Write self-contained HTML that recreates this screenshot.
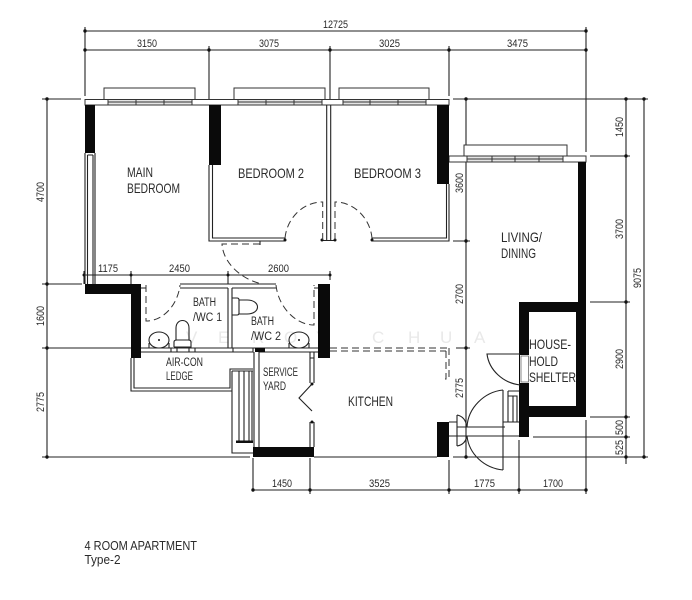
<!DOCTYPE html>
<html><head><meta charset="utf-8"><style>
html,body{margin:0;padding:0;background:#fff}
svg{display:block}
text{font-family:"Liberation Sans",sans-serif;fill:#2a2a2a}
.r{font-size:14px}.d{font-size:11px}
.w{font-size:17px;fill:#e9e9e9}
.l{stroke:#333;stroke-width:1;fill:none}
.t{stroke:#222;stroke-width:1.1;fill:none}
.da{stroke:#333;stroke-width:1;fill:none;stroke-dasharray:7 4}
.f{stroke:#333;stroke-width:1;fill:#fff}
.dot{fill:#111}
</style></head><body>
<svg width="692" height="600" viewBox="0 0 692 600" xmlns="http://www.w3.org/2000/svg">
<!-- watermark -->
<text class="w" x="186" y="343">V</text><text class="w" x="218" y="343">E</text><text class="w" x="252" y="343">R</text><text class="w" x="284" y="343">O</text><text class="w" x="316" y="343">Y</text><text class="w" x="372" y="343">C</text><text class="w" x="408" y="343">H</text><text class="w" x="440" y="343">U</text><text class="w" x="474" y="343">A</text>

<!-- dimension lines -->
<g class="t">
<path d="M85 31H586M85 50H586M85 27V96M209 46V99M330 46V99M449 46V96M586 27V152"/>
<path d="M42 99H81M453 99H648M590 156H630M453 241H470M456 348H470M590 302H630M590 417H630M533 437H630M453 457H648M42 284H82M42 348H131M42 457H250M314 457H437"/>
<path d="M47 99V457M466 99V457M626 99V464M644 99V457"/>
<path d="M84 275H330M84 271V284M131 271V284M228 271V284M330 271V280"/>
<path d="M253 490H586M253 458V490M310 458V494M449 460V494M519 440V494M586 420V494"/>
</g>
<g class="dot">
<circle cx="85" cy="31" r="1.7"/><circle cx="586" cy="31" r="1.7"/><circle cx="85" cy="50" r="1.7"/><circle cx="209" cy="50" r="1.7"/><circle cx="330" cy="50" r="1.7"/><circle cx="449" cy="50" r="1.7"/><circle cx="586" cy="50" r="1.7"/>
<circle cx="47" cy="99" r="1.7"/><circle cx="47" cy="284" r="1.7"/><circle cx="47" cy="348" r="1.7"/><circle cx="47" cy="457" r="1.7"/>
<circle cx="466" cy="99" r="1.7"/><circle cx="466" cy="241" r="1.7"/><circle cx="466" cy="348" r="1.7"/><circle cx="466" cy="457" r="1.7"/>
<circle cx="626" cy="99" r="1.7"/><circle cx="626" cy="156" r="1.7"/><circle cx="626" cy="302" r="1.7"/><circle cx="626" cy="417" r="1.7"/><circle cx="626" cy="437" r="1.7"/><circle cx="626" cy="457" r="1.7"/>
<circle cx="644" cy="99" r="1.7"/><circle cx="644" cy="457" r="1.7"/>
<circle cx="84" cy="275" r="1.5"/><circle cx="131" cy="275" r="1.5"/><circle cx="228" cy="275" r="1.5"/><circle cx="330" cy="275" r="1.5"/>
<circle cx="253" cy="490" r="1.7"/><circle cx="310" cy="490" r="1.7"/><circle cx="449" cy="490" r="1.7"/><circle cx="519" cy="490" r="1.7"/><circle cx="586" cy="490" r="1.7"/>
</g>

<!-- top walls + windows -->
<g class="f">
<rect x="85" y="99.5" width="364" height="5.5"/>
<rect x="449" y="156" width="137" height="6"/>
<rect x="104" y="88" width="91" height="11.5"/><rect x="234" y="88" width="91" height="11.5"/><rect x="339" y="88" width="90" height="11.5"/><rect x="464" y="145" width="103" height="11"/>
</g>
<g fill="#e4e4e4" stroke="#333">
<rect x="108" y="99.5" width="84" height="5.5"/><rect x="238" y="99.5" width="84" height="5.5"/><rect x="343" y="99.5" width="83" height="5.5"/><rect x="467" y="156" width="96" height="6"/>
</g>
<path class="l" d="M136 99.5V105M164 99.5V105M266 99.5V105M294 99.5V105M370 99.5V105M398 99.5V105M492 156V162M515 156V162M539 156V162M108 102H192M238 102H322M343 102H426M467 159H563"/>

<!-- thin walls -->
<path class="t" d="M85 153V284M87.5 155V284M93 155V284M95 153V284M87.5 155H93"/>
<path class="t" d="M209 165V241H285V238H212.5V165"/>
<path class="t" d="M326.7 105V240M330.7 105V240M322 240.500H335"/>
<path class="t" d="M449 184V241H372V238H446.500V184"/>
<path class="t" d="M260 241V245"/>
<circle class="dot" cx="285" cy="240" r="1.5"/><circle class="dot" cx="372" cy="240" r="1.5"/><circle class="dot" cx="322" cy="240" r="1.5"/><circle class="dot" cx="335" cy="240" r="1.5"/>

<!-- doors -->
<path class="da" d="M285 238C287 218 303 202 322.700 202V240"/>
<path class="da" d="M335 240V202C354 202 370 218 372 238"/>
<path class="da" d="M260 244H222C223 262 240 279 262 284"/>
<path class="da" d="M146 285V321C164 321 178 304 180 285"/>
<path class="da" d="M276 285C278 306 295 325 314 325V285"/>
<path class="da" d="M330 348H449M330 351H446M449 348V379M446 351V379H442"/>

<!-- baths -->
<path class="t" d="M180 284H276M146 288H141M180 288H228M232 288H276M314 288H318M228 288V348M232 288V348M141 348H318M141 352H253M259 352H318"/>
<path class="t" d="M171 348H195V352H171ZM233 348H253V352H233ZM177 348V352M189 348V352"/>
<g class="t" fill="#fff">
<ellipse cx="159" cy="340" rx="10" ry="8"/><path d="M149 343V348M169 343V348"/>
<ellipse cx="299" cy="340" rx="10" ry="8"/><path d="M289 343V348M309 343V348"/>
<path d="M176 340V328C176 318 189 318 189 328V340"/><path d="M174 347V342Q174 340 177 340H188Q191 340 191 342V347H174"/>
<path d="M232 298H237Q239 298 239 300V313Q239 315 237 315H232"/><path d="M239 300H247C261 300 261 314 247 314H239"/>
</g>
<circle class="dot" cx="159" cy="340" r="1"/><circle class="dot" cx="299" cy="340" r="1"/>

<!-- ledge and service yard -->
<path class="t" d="M131 358V391H232M134 358V388H230V369H253M232 371H253M232 371V453H253"/>
<path class="t" d="M254 352V447M259 352V447M310 352V358M314 352V358M310 358V383M314 358V383M310 422V447M314 422V447M310 358H314"/>
<path class="t" d="M312 384L299 398L312 411"/>
<path class="t" d="M239 371V441M244 371V441M249 371V441M252 371V441"/>
<path d="M236 440.500H253V443H236Z" fill="#111"/>
<circle class="dot" cx="312" cy="384" r="1.5"/><circle class="dot" cx="312" cy="422" r="1.5"/>

<!-- black walls -->
<g fill="#0a0a0a">
<rect x="85" y="105" width="10" height="48"/>
<rect x="209" y="105" width="12" height="60"/>
<rect x="437" y="105" width="12" height="79"/>
<path d="M85 284H141V358H131V294H85Z"/>
<rect x="318" y="284" width="12" height="74"/>
<rect x="255" y="348" width="10" height="4"/>
<rect x="253" y="447" width="61" height="10"/>
<rect x="437" y="422" width="12" height="35"/>
<path d="M578 162H586V417H519V302H578ZM529 312V406H576V312Z" fill-rule="evenodd"/>
<rect x="519" y="406" width="10" height="31"/>
</g>
<rect x="520" y="355" width="9" height="28" fill="#fff"/>
<rect x="521" y="356" width="7.500" height="26" fill="none" stroke="#555" stroke-width=".7"/>

<!-- shelter + entrance -->
<g class="t">
<path d="M520 354H487C489 370 503 383 520 385"/>
<path d="M503 390V470M503 390C484 392 468 408 467 427M467 436C469 454 484 468 503 470"/>
<path d="M457 427H505M457 436H505M457 422V440M457 415C463 416 466 421 467 427M457 415V427M457 446C463 445 466 441 467 436M457 436V446"/>
<path d="M449 422H457M449 436H457M503 422H519M505 436H519"/>
<path d="M508 391H519M508 391V422M508 396H517V422M513 396V422"/>
</g>

<!-- room labels -->
<text class="r" x="127" y="177" textLength="26" lengthAdjust="spacingAndGlyphs">MAIN</text>
<text class="r" x="127" y="193" textLength="53" lengthAdjust="spacingAndGlyphs">BEDROOM</text>
<text class="r" x="238" y="178" textLength="66" lengthAdjust="spacingAndGlyphs">BEDROOM 2</text>
<text class="r" x="354" y="178" textLength="67" lengthAdjust="spacingAndGlyphs">BEDROOM 3</text>
<text class="r" x="501" y="242" textLength="41" lengthAdjust="spacingAndGlyphs">LIVING/</text>
<text class="r" x="501" y="258" textLength="35" lengthAdjust="spacingAndGlyphs">DINING</text>
<text class="d" x="193" y="306" textLength="23" lengthAdjust="spacingAndGlyphs" style="font-size:11.500px">BATH</text>
<text class="d" x="193" y="321" textLength="29" lengthAdjust="spacingAndGlyphs" style="font-size:11.500px">/WC 1</text>
<text class="d" x="251" y="325" textLength="23" lengthAdjust="spacingAndGlyphs" style="font-size:11.500px">BATH</text>
<text class="d" x="251" y="340" textLength="30" lengthAdjust="spacingAndGlyphs" style="font-size:11.500px">/WC 2</text>
<text class="d" x="166" y="366" textLength="37" lengthAdjust="spacingAndGlyphs" style="font-size:11.500px">AIR-CON</text>
<text class="d" x="166" y="380" textLength="27" lengthAdjust="spacingAndGlyphs" style="font-size:11.500px">LEDGE</text>
<text class="d" x="263" y="376" textLength="35" lengthAdjust="spacingAndGlyphs" style="font-size:11.500px">SERVICE</text>
<text class="d" x="263" y="390" textLength="23" lengthAdjust="spacingAndGlyphs" style="font-size:11.500px">YARD</text>
<text class="r" x="348" y="406" textLength="45" lengthAdjust="spacingAndGlyphs">KITCHEN</text>
<text class="r" x="529" y="349" textLength="42" lengthAdjust="spacingAndGlyphs">HOUSE-</text>
<text class="r" x="529" y="366" textLength="29" lengthAdjust="spacingAndGlyphs">HOLD</text>
<text class="r" x="529" y="382" textLength="47" lengthAdjust="spacingAndGlyphs">SHELTER</text>

<!-- horizontal dim text -->
<text class="d" x="323" y="28" textLength="25" lengthAdjust="spacingAndGlyphs">12725</text>
<text class="d" x="137" y="47" textLength="20" lengthAdjust="spacingAndGlyphs">3150</text>
<text class="d" x="259" y="47" textLength="20" lengthAdjust="spacingAndGlyphs">3075</text>
<text class="d" x="379" y="47" textLength="21" lengthAdjust="spacingAndGlyphs">3025</text>
<text class="d" x="507" y="47" textLength="21" lengthAdjust="spacingAndGlyphs">3475</text>
<text class="d" x="98" y="272" textLength="20" lengthAdjust="spacingAndGlyphs">1175</text>
<text class="d" x="169" y="272" textLength="21" lengthAdjust="spacingAndGlyphs">2450</text>
<text class="d" x="268" y="272" textLength="21" lengthAdjust="spacingAndGlyphs">2600</text>
<text class="d" x="272" y="487" textLength="20" lengthAdjust="spacingAndGlyphs">1450</text>
<text class="d" x="369" y="487" textLength="21" lengthAdjust="spacingAndGlyphs">3525</text>
<text class="d" x="474" y="487" textLength="21" lengthAdjust="spacingAndGlyphs">1775</text>
<text class="d" x="543" y="487" textLength="20" lengthAdjust="spacingAndGlyphs">1700</text>

<!-- rotated dim text -->
<g>
<text class="d" transform="translate(44 202) rotate(-90)" textLength="20" lengthAdjust="spacingAndGlyphs">4700</text>
<text class="d" transform="translate(44 326) rotate(-90)" textLength="20" lengthAdjust="spacingAndGlyphs">1600</text>
<text class="d" transform="translate(44 412) rotate(-90)" textLength="20" lengthAdjust="spacingAndGlyphs">2775</text>
<text class="d" transform="translate(623 137) rotate(-90)" textLength="20" lengthAdjust="spacingAndGlyphs">1450</text>
<text class="d" transform="translate(623 239) rotate(-90)" textLength="20" lengthAdjust="spacingAndGlyphs">3700</text>
<text class="d" transform="translate(641 288) rotate(-90)" textLength="20" lengthAdjust="spacingAndGlyphs">9075</text>
<text class="d" transform="translate(623 369) rotate(-90)" textLength="20" lengthAdjust="spacingAndGlyphs">2900</text>
<text class="d" transform="translate(623 435) rotate(-90)" textLength="15" lengthAdjust="spacingAndGlyphs">500</text>
<text class="d" transform="translate(623 455) rotate(-90)" textLength="15" lengthAdjust="spacingAndGlyphs">525</text>
<text class="d" transform="translate(463 193) rotate(-90)" textLength="20" lengthAdjust="spacingAndGlyphs">3600</text>
<text class="d" transform="translate(463 304) rotate(-90)" textLength="20" lengthAdjust="spacingAndGlyphs">2700</text>
<text class="d" transform="translate(463 398) rotate(-90)" textLength="20" lengthAdjust="spacingAndGlyphs">2775</text>
</g>

<!-- caption -->
<text x="84.500" y="550" textLength="112.500" lengthAdjust="spacingAndGlyphs" style="font-size:12.500px">4 ROOM APARTMENT</text>
<text x="84.500" y="564" textLength="36" lengthAdjust="spacingAndGlyphs" style="font-size:12.500px">Type-2</text>
</svg>
</body></html>
